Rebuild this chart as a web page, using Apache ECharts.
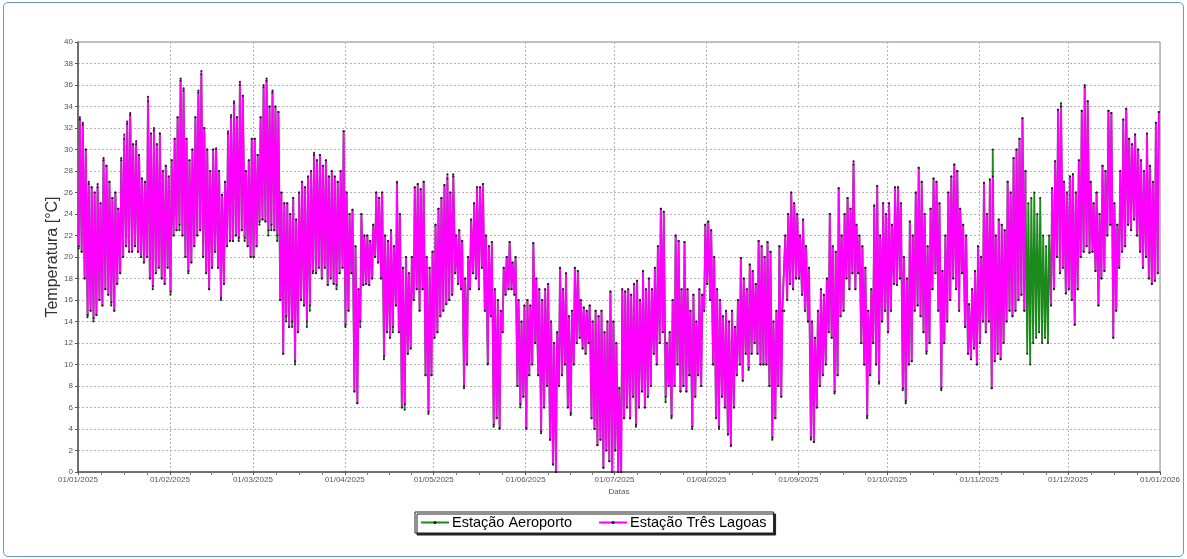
<!DOCTYPE html>
<html lang="pt">

<head>
    <meta charset="UTF-8">
    <title>Temperatura 2025</title>
    <script src="https://cdn.jsdelivr.net/npm/echarts@6.0.0/dist/echarts.min.js"></script>
    <style>
        body { margin: 0; background: #fff; }
        #frame {
            position: absolute; left: 3px; top: 2px; width: 1179px; height: 553px;
            border: 1px solid #6a95d2; border-radius: 5px;
        }
        #chart { position: absolute; left: 0; top: 0; width: 1187px; height: 559px; }
    </style>
</head>

<body>
    <div id="frame"></div>
    <div id="chart"></div>
    <script>
        // rótulos do eixo X (início de cada mês)
        const monthLabels = ['01/01/2025', '01/02/2025', '01/03/2025', '01/04/2025', '01/05/2025', '01/06/2025',
            '01/07/2025', '01/08/2025', '01/09/2025', '01/10/2025', '01/11/2025', '01/12/2025', '01/01/2026'];

        // Estação Três Lagoas - máximas e mínimas diárias
        const tlMax = [
            33, 32.5, 30, 27, 26.5, 26, 26.8, 25, 29.2, 28.5, 27, 25.5, 26, 24.5, 29, 31.4, 32.6, 33.4, 30.5, 30.8, 29.5, 27.3, 27, 34.9, 31.5, 32, 30.5, 31.5, 28, 28.5, 27.5,
            29, 31, 33, 36.6, 35.7, 31, 29, 30, 33, 35.5, 37.3, 32, 30, 28, 30, 30.1, 28, 25.8, 27, 31.7, 33.2, 34.5, 33, 36.3, 35, 28, 29, 31,
            31, 29.5, 33, 36, 36.6, 34, 35.5, 34, 33.5, 26, 25, 25, 24, 25.5, 23.5, 26, 27, 26.5, 27.5, 28, 29.7, 29, 29.5, 28.5, 29, 27.5, 28, 27.5, 27, 28, 31.7,
            26, 24, 24.4, 21, 17, 24, 22, 22, 21.5, 23, 26, 25.5, 26, 22, 21.5, 22.5, 21, 26.9, 24, 19, 20, 18.5, 20, 26.5, 26.8, 26.3, 27, 20, 19, 20.5,
            23, 24.5, 25.5, 26.7, 27.7, 26, 27.5, 22, 22.5, 21.5, 18, 20, 23.5, 25, 26.5, 26.5, 26.8, 22, 21, 21.4, 17, 16, 15, 19, 20, 21.4, 19.5, 20, 16, 14, 15.5,
            16, 15.5, 21.3, 18, 17, 16, 17, 17.5, 14, 12, 13, 19, 17, 18.5, 14.5, 15, 19, 18.7, 16, 15.3, 15, 15.5, 14, 15, 14.5, 15, 13, 14, 16.8, 14,
            12, 7.8, 17, 16.8, 17, 16.5, 17.5, 17.8, 16, 18.7, 17, 18, 17, 19, 21, 24.5, 24.2, 12, 13, 16, 22, 21.5, 17, 21.4, 17, 15, 16.5, 14, 17, 16.5, 23,
            23.3, 22.5, 20, 17, 16, 14.5, 15, 14, 15, 13.5, 16, 19.9, 18, 17, 19.3, 18.7, 17.5, 21.5, 21, 20, 21.4, 20.5, 14, 15, 21, 15, 22, 24, 26, 25, 24,
            22, 23.5, 21, 19, 14, 12.5, 15, 17, 16.5, 18, 24, 21, 20.5, 26.4, 22, 24, 25.5, 24.5, 28.9, 23, 22, 21, 19, 15, 17, 24.8, 26.6, 22, 25, 24,
            25, 23, 26.5, 26.5, 25, 20, 18, 23.3, 22, 26, 28.3, 27, 24, 21, 24.5, 27.3, 27, 25, 18.7, 22, 26, 27.5, 28.6, 28, 24.5, 23, 22, 15.6, 17, 18.7, 21,
            20, 26.9, 24, 27.2, 27.5, 22, 23.5, 23, 22.5, 27, 26, 29.2, 30, 31, 32.9, 28, null, null, null, null, null, null, null, null, 26.4, 28.9, 33.7, 34, 27, 26,
            27.5, 27.7, 26, 29, 33.6, 36, 34.5, 27, 25, 26, 24, 28.5, 28, 33.6, 33.4, 25, 23, 28, 32.8, 33.8, 31, 30.5, 31.4, 30, 29, 28, 31.5, 28.5, 27, 32.5, 33.5
        ];
        const tlMin = [
            21, 20.5, 18, 14.6, 15, 14.3, 14.6, 16, 15.5, 17, 16.5, 15.8, 15, 17.5, 18.5, 20, 21, 20.5, 20.5, 21, 20.5, 20, 19.5, 20, 18, 17.3, 18.5, 19, 18, 17.5, 19,
            16.8, 22, 22.5, 23, 22, 20, 18.7, 19.5, 21, 22, 22.5, 20, 18.5, 17, 19, 20.5, 19, 16.2, 17.5, 21, 21.5, 21.5, 22, 21.8, 22.5, 21.8, 21, 20,
            20, 21, 23.3, 23.5, 23.3, 22.5, 23, 22.5, 22, 16, 11, 14.5, 13.5, 14, 10.3, 13, 16, 15.5, 14, 15.5, 18.7, 18.5, 19, 18, 19, 17.4, 18, 17.5, 17.4, 18.5, 19,
            13.7, 15, 18.5, 7.5, 6.4, 14, 17.4, 17.5, 17.4, 18, 20, 19.5, 18, 10.8, 13, 12.5, 13.5, 15.5, 13, 6, 6.3, 11, 11.5, 16, 17, 15, 17, 9, 5.6, 9,
            12.5, 13, 14.5, 15, 15.6, 16, 16.5, 18.5, 17.5, 17, 8, 10, 17, 18.5, 18, 17, 19, 15, 10.1, 14.5, 4.4, 5, 4.1, 13, 16.5, 17, 17, 16.5, 8, 6.3, 7,
            4.1, 9, 10, 12, 9, 3.8, 6, 8, 3, 0.7, 0, 8, 9, 10, 6, 5.5, 10, 12, 12.5, 11.5, 11, 12, 5, 4, 2.5, 3, 0.4, 2, 1, 0,
            2, 0, 0, 5, 6, 5, 7, 4.4, 6, 7.5, 6, 7, 8, 11, 10, 12, 13, 7, 8, 5.2, 8, 10, 7.5, 8, 7.5, 9, 4.2, 7, 9, 8, 15,
            17.5, 16, 10, 5, 4.2, 7, 6, 3.5, 2.5, 6, 9, 10, 8.5, 11, 9.7, 11, 12, 11, 10, 10, 10, 8, 3.2, 5, 8, 7, 15, 16, 17.5, 17, 18,
            18, 16.5, 15, 14, 3.2, 2.8, 6, 8, 9, 10, 13, 12.5, 7.5, 9, 14.5, 15, 18, 17, 18.5, 17, 18.5, 12, 10, 5.2, 9, 12, 10, 8.4, 14, 15,
            13, 15, 17.5, 17.4, 18, 7.8, 6.6, 10, 10.3, 15, 15.5, 14.5, 13, 11.2, 12, 17, 18.5, 15, 7.8, 12, 14, 16, 18, 17, 15, 18.5, 13.5, 11, 10.5, 11.5, 10,
            12, 14, 13, 14, 7.8, 10.3, 11, 10.5, 12, 14, 15, 14.5, 15, 16, 16.5, 15, null, null, null, null, null, null, null, null, 15.5, 17, 20, 18.5, 19, 16.6,
            17, 16, 13.7, 17, 20, 20.5, 21, 20.4, 20.5, 18.7, 15.5, 18, 18.7, 22, 23, 12.5, 15, 19, 20.5, 21, 23, 22.5, 23.5, 22, 20.5, 19, 20, 18, 17.5, 17.8, 18.5
        ];

        // Estação Aeroporto - máximas e mínimas diárias
        const aeMax = [
            32.8, 32.3, 30, 26.8, 26.5, 26, 26.5, 25, 29, 28.5, 27, 25.5, 26, 24.5, 29.2, 31, 32.4, 33.2, 30.5, 30.5, 29.5, 27.3, 27, 34.5, 31.5, 31.8, 30.5, 31.5, 28, 28.5, 27.5,
            29, 31, 33, 36.4, 35.5, 31, 29, 30, 33, 35.3, 37, 32, 30, 28, 30, 30.1, 28, 25.8, 27, 31.5, 33, 34.3, 33, 36, 35, 28, 29, 31,
            31, 29.5, 33, 35.8, 36.4, 34, 35.3, 34, 33.5, 26, 25, 25, 24, 25.5, 23.5, 26, 27, 26.5, 27.5, 28, 29.5, 29, 29.5, 28.5, 29, 27.5, 28, 27.5, 27, 28, 31.7,
            26, 24, 24.4, 21, 17, 24, 22, 22, 21.5, 23, 26, 25.5, 26, 22, 21.5, 22.5, 21, 27, 24, 19, 20, 18.5, 20, 26.5, 26.8, 26.3, 27, 20, 19, 20.5,
            23, 24.5, 25.5, 26.7, 27.3, 26, 27.7, 22, 22.5, 21.5, 18, 20, 23.5, 25, 26.5, 26.5, 26.8, 22, 21, 21.4, 17, 16, 15, 19, 20, 21.4, 19.5, 20, 16, 14, 15.5,
            16, 15.5, 21.3, 18, 17, 16, 17, 17.5, 14, 12, 13, 19, 17, 18.5, 14.5, 15, 19, 18.7, 16, 15.3, 15, 15.5, 14, 15, 14.5, 15, 13, 14, 16.8, 14,
            12, 7.8, 17, 16.8, 17, 16.5, 17.5, 17.8, 16, 18.7, 17, 18, 17, 19, 21, 24.5, 24.2, 12, 13, 16, 22, 21.5, 17, 21.4, 17, 15, 16.5, 14, 17, 16.5, 23,
            23.3, 22.5, 20, 17, 16, 14.5, 15, 14, 15, 13.5, 16, 19.9, 18, 17, 19.3, 18.7, 17.5, 21.5, 21, 20, 21.4, 20.5, 14, 15, 21, 15, 22, 24, 26, 25, 24,
            22, 23.5, 21, 19, 14, 12.5, 15, 17, 16.5, 18, 24, 21, 20.5, 26.4, 22, 24, 25.5, 24.5, 28.6, 23, 22, 21, 19, 15, 17, 24.8, 26.6, 22, 25, 24,
            25, 23, 26.5, 26.5, 25, 20, 18, 23.3, 22, 26, 28.3, 27, 24, 21, 24.5, 27.3, 27, 25, 18.7, 22, 26, 27.5, 28.6, 28, 24.5, 23, 22, 15.6, 17, 18.7, 21,
            20, 26.9, 24, 27.2, 30, 22, 23.5, 23, 22.5, 27, 26, 29.2, 30, 31, 32.9, 28, 25, 25.5, 26, 24, 25.5, 22, 21, 22, 26.4, 28.9, 33.7, 34.3, 27, 26,
            27.5, 27.7, 26, 29, 33.6, 35.8, 34.5, 27, 25, 26, 24, 28.5, 28, 33.6, 33.4, 25, 23, 28, 32.8, 33.8, 31, 30.5, 31.4, 30, 29, 28, 31.5, 28.5, 27, 32.5, 33.5
        ];
        const aeMin = [
            20.8, 20.5, 18, 14.4, 15, 14, 14.6, 16, 15.5, 17, 16.5, 15.5, 15, 17.5, 18.5, 20, 21, 20.5, 20.5, 21, 20.5, 20, 19.5, 20, 18, 17, 18.5, 19, 18, 17.5, 19,
            16.5, 22, 22.5, 22.5, 22, 20, 18.5, 19.5, 21, 22, 22.5, 20, 18.5, 17, 19, 20.5, 19, 16, 17.5, 21, 21.5, 21.5, 22, 21.5, 22.5, 21.5, 21, 20,
            20, 21, 23, 23.5, 23.3, 22, 22.5, 22.5, 21.5, 16, 11, 14, 13.5, 13.5, 10, 13, 16, 15.5, 13.5, 15, 18.5, 18.5, 19, 18, 19, 17.4, 18, 17.5, 17, 18.5, 19,
            13.5, 15, 18.5, 7.5, 6.4, 13.5, 17.4, 17.5, 17.4, 18, 20, 19.5, 18, 10.5, 13, 12.5, 13, 15.5, 13, 6, 5.8, 11, 11.5, 16, 17, 15, 17, 9, 5.4, 9,
            12.5, 13, 14.5, 15, 15.6, 16, 16.5, 18.5, 17.5, 17, 7.8, 10, 17, 18.5, 18, 17, 19, 15, 10, 14.5, 4.2, 5, 4, 13, 16.5, 17, 17, 16.5, 8, 6, 7,
            4, 9, 10, 12, 9, 3.6, 6, 8, 3, 0.7, 0, 8, 9, 10, 6, 5.3, 10, 12, 12.5, 11.5, 11, 12, 5, 4, 2.5, 3, 0.4, 2, 1, 0,
            2, 0, 0, 5, 6, 5, 7, 4.2, 6, 7.5, 6, 7, 8, 11, 10, 12, 13, 6.5, 8, 5, 8, 10, 7.5, 8, 7.5, 9, 4, 7, 9, 8, 15,
            17.5, 16, 10, 5, 4, 7, 6, 3.5, 2.4, 6, 9, 10, 8.5, 11, 9.5, 11, 12, 11, 10, 10, 10, 8, 3, 5, 8, 7, 15, 16, 17.5, 17, 18,
            18, 16.5, 15, 14, 3, 2.8, 6, 8, 9, 10, 13, 12.5, 7.3, 9, 14.5, 15, 18, 17, 18.5, 17, 18.5, 12, 10, 5, 9, 12, 10, 8.2, 14, 15,
            13, 15, 17.5, 17.4, 18, 7.6, 6.4, 10, 10.3, 15, 15.5, 14.5, 13, 11, 12, 17, 18.5, 15, 7.6, 12, 14, 16, 18, 17, 15, 18.5, 13.5, 11, 10.5, 11.5, 10,
            12, 14, 13, 14, 7.8, 10.3, 11, 10.5, 12, 14, 15, 14.5, 15, 16, 16.5, 15, 11, 10, 12, 12.5, 13, 12, 12.5, 12, 15.5, 17, 20, 18.5, 19, 16.6,
            17, 16, 13.7, 17, 20, 20.5, 21, 20.4, 20.5, 18.7, 15.5, 18, 18.7, 22, 23, 12.5, 15, 19, 20.5, 21, 23, 22.5, 23.5, 22, 20.5, 19, 20, 18, 17.5, 17.8, 18.5
        ];

        // dia do ano a partir do rótulo dd/mm/aaaa
        function dayOf(label) {
            const [d, m, y] = label.split('/').map(Number);
            return (Date.UTC(y, m - 1, d) - Date.UTC(2025, 0, 1)) / 86400000;
        }
        const monthDays = monthLabels.map(dayOf);

        // ticks menores: 4 por mês
        const quarterDays = [];
        for (let i = 0; i < monthDays.length - 1; i++) {
            const len = monthDays[i + 1] - monthDays[i];
            for (let k = 1; k < 4; k++) quarterDays.push(monthDays[i] + len * k / 4);
        }

        // mínima de madrugada, máxima à tarde
        function dailyPoints(maxArr, minArr, hMin, hMax) {
            const out = [];
            for (let i = 0; i < maxArr.length; i++) {
                out.push([i + hMin / 24, minArr[i] == null ? '-' : minArr[i]]);
                out.push([i + hMax / 24, maxArr[i] == null ? '-' : maxArr[i]]);
            }
            return out;
        }

        const chart = echarts.init(document.getElementById('chart'));
        chart.setOption({
            animation: false,
            grid: {
                left: 78, right: 27, top: 42, bottom: 87,
                show: true, borderColor: '#8a8a8a', borderWidth: 1
            },
            legend: {
                left: 415, top: 512,
                padding: [3, 7, 3, 5],
                itemGap: 26, itemWidth: 28, itemHeight: 4,
                backgroundColor: '#fff',
                borderColor: '#222', borderWidth: 1,
                shadowColor: '#222', shadowOffsetX: 2, shadowOffsetY: 2, shadowBlur: 0,
                textStyle: { fontFamily: 'Liberation Sans', fontSize: 14.5, color: '#000', padding: [0, 0, 0, -2] },
                data: ['Estação Aeroporto', 'Estação Três Lagoas']
            },
            xAxis: [{
                type: 'value', min: 0, max: 365,
                name: 'Datas', nameLocation: 'middle', nameGap: 16, nameMoveOverlap: false,
                nameTextStyle: { fontFamily: 'Liberation Sans', fontSize: 8, color: '#555' },
                axisLine: { show: true, lineStyle: { color: '#555', width: 1.5 } },
                axisTick: { show: true, length: 3, customValues: monthDays, lineStyle: { color: '#555' } },
                axisLabel: {
                    customValues: monthDays, margin: 4,
                    fontFamily: 'Liberation Sans', fontSize: 8, color: '#555',
                    formatter: v => monthLabels[monthDays.indexOf(Math.round(v))]
                },
                splitLine: { show: true, lineStyle: { color: '#b5b5b5', type: [2, 2] } }
            }, {
                type: 'value', min: 0, max: 365, position: 'bottom',
                axisLine: { show: false },
                axisTick: { show: true, length: 3, customValues: quarterDays, lineStyle: { color: '#777' } },
                axisLabel: { show: false },
                splitLine: { show: false }
            }],
            yAxis: {
                type: 'value', min: 0, max: 40, interval: 2,
                name: 'Temperatura [°C]', nameLocation: 'middle', nameGap: 17, nameMoveOverlap: false,
                nameTextStyle: { fontFamily: 'Liberation Sans', fontSize: 16, color: '#333' },
                axisLine: { show: true, lineStyle: { color: '#555', width: 1.5 } },
                axisTick: { show: true, length: 3, lineStyle: { color: '#555' } },
                axisLabel: { margin: 5, fontFamily: 'Liberation Sans', fontSize: 8, color: '#555' },
                splitLine: { show: true, lineStyle: { color: '#b5b5b5', type: [2, 2] } }
            },
            series: [{
                name: 'Estação Aeroporto',
                type: 'line',
                data: dailyPoints(aeMax, aeMin, 5, 14),
                symbol: 'circle', symbolSize: 2,
                itemStyle: { color: '#1f1f1f' },
                lineStyle: { color: '#1d8a1d', width: 1.8 },
                emphasis: { disabled: true }
            }, {
                name: 'Estação Três Lagoas',
                type: 'line',
                data: dailyPoints(tlMax, tlMin, 6.5, 15),
                connectNulls: false,
                symbol: 'circle', symbolSize: 2,
                itemStyle: { color: '#1f1f1f' },
                lineStyle: { color: '#ff00ff', width: 1.8 },
                emphasis: { disabled: true }
            }]
        });
    </script>
</body>

</html>
